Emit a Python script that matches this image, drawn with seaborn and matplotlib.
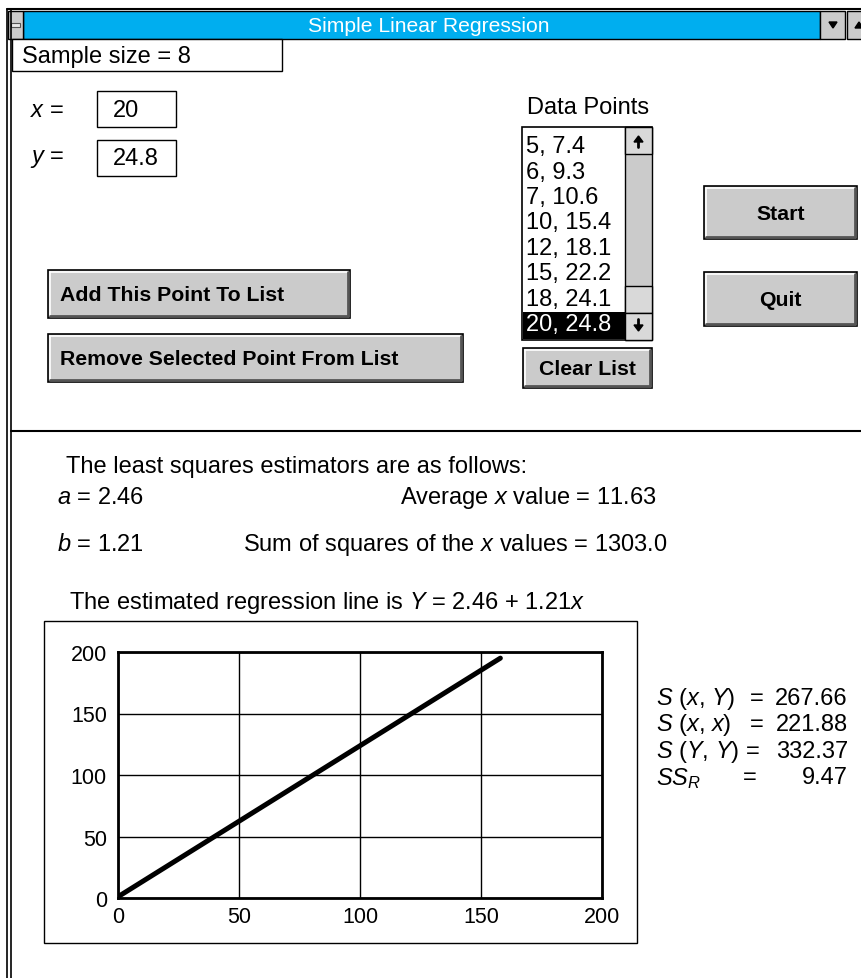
import numpy as np
import matplotlib.pyplot as plt
import matplotlib.patches as patches
import seaborn as sns

# values
pts_x = [5, 6, 7, 10, 12, 15, 18, 20]
pts_y = [7.4, 9.3, 10.6, 15.4, 18.1, 22.2, 24.1, 24.8]
entry_x = "20"
entry_y = "24.8"
a_est = 2.46
b_est = 1.21
avg_x = 11.63
sum_sq_x = 1303.0
s_xy = 267.66
s_xx = 221.88
s_yy = 332.37
ss_r = 9.47

# regression line as drawn in the plot panel
line_x = [0, 158]
line_y = [1, 195]
ticks = [0, 50, 100, 150, 200]

sns.set_theme(style="white")
plt.rcParams['font.family'] = ['Liberation Sans', 'DejaVu Sans']
plt.rcParams['text.color'] = 'black'
plt.rcParams['mathtext.fontset'] = 'custom'
plt.rcParams['mathtext.rm'] = 'Liberation Sans'
plt.rcParams['mathtext.it'] = 'Liberation Sans:italic'

W, H = 862, 979
FS = 17  # main gui text size
fig = plt.figure(figsize=(W / 100, H / 100), dpi=100)
bg = fig.add_axes([0, 0, 1, 1])
bg.set_xlim(0, W)
bg.set_ylim(H, 0)
bg.axis('off')

GRAY = '#cbcbcb'


def rect(x0, y0, x1, y1, fc='white', ec='black', lw=1.0, z=1):
    bg.add_patch(patches.Rectangle((x0, y0), x1 - x0, y1 - y0, facecolor=fc,
                                   edgecolor=ec, linewidth=lw, zorder=z))


def bold_button(x0, y0, x1, y1, label, ha='center', pad=12, size=15.3):
    rect(x0, y0, x1, y1, fc=GRAY, ec='black', lw=1.2)
    # 3d look: light top/left, dark bottom/right
    bg.plot([x0 + 2, x1 - 2], [y0 + 2, y0 + 2], color='white', lw=1.2, zorder=2)
    bg.plot([x0 + 2, x0 + 2], [y0 + 2, y1 - 2], color='white', lw=1.2, zorder=2)
    bg.plot([x0 + 2, x1 - 2], [y1 - 2, y1 - 2], color='#555555', lw=2, zorder=2)
    bg.plot([x1 - 2, x1 - 2], [y0 + 2, y1 - 2], color='#555555', lw=2, zorder=2)
    tx = (x0 + x1) / 2 if ha == 'center' else x0 + pad
    bg.text(tx, (y0 + y1) / 2 + 1, label, fontsize=size, fontweight='bold',
            ha=ha, va='center', zorder=3)


# window frame
bg.plot([7, 7], [10, H], color='black', lw=1.2)
bg.plot([11, 11], [10, H], color='black', lw=1.2)
bg.plot([7, W], [10, 10], color='black', lw=1.5)
rect(23, 12, 820, 40, fc='#00aeef', ec='black', lw=1)
rect(8, 12, 23, 40, fc=GRAY, ec='black', lw=1)
rect(11, 24, 20, 28, fc='#e8e8e8', ec='#555555', lw=0.8)
rect(820, 12, 845, 40, fc=GRAY, ec='black', lw=1)
rect(847, 12, W + 2, 40, fc=GRAY, ec='black', lw=1)
bg.add_patch(patches.Polygon([[829, 23], [837, 23], [833, 29]], color='black'))
bg.add_patch(patches.Polygon([[855, 29], [863, 29], [859, 23]], color='black'))
bg.text(429, 26, "Simple Linear Regression", color='white', fontsize=15.2,
        ha='center', va='center')

# sample size box
rect(12, 40, 282, 72, fc='white', ec='black', lw=1)
bg.text(22, 57, f"Sample size = {len(pts_x)}", fontsize=FS, va='center')

# x / y entry boxes
bg.text(30, 111, "$x$ =", fontsize=FS, va='center')
rect(97, 92, 176, 128, fc='white', ec='black', lw=1)
bg.text(113, 111, entry_x, fontsize=FS, va='center')
bg.text(30, 159, "$y$ =", fontsize=FS, va='center')
rect(97, 141, 176, 177, fc='white', ec='black', lw=1)
bg.text(113, 159, entry_y, fontsize=FS, va='center')

# data points list
bg.text(588, 108, "Data Points", fontsize=FS, ha='center', va='center')
rect(522, 128, 652, 341, fc='white', ec='black', lw=1.2)
rect(625, 128, 652, 341, fc=GRAY, ec='black', lw=1)
for y0, y1 in [(128, 155), (287, 314), (314, 341)]:
    rect(625, y0, 652, y1, fc='#d9d9d9', ec='black', lw=1)
bg.add_patch(patches.Polygon([[634, 143], [643, 143], [638.5, 137]], color='black'))
bg.plot([638.5, 638.5], [142, 148], color='black', lw=2)
bg.add_patch(patches.Polygon([[634, 326], [643, 326], [638.5, 332]], color='black'))
bg.plot([638.5, 638.5], [320, 327], color='black', lw=2)
row_y = 147
for i, (px, py) in enumerate(zip(pts_x, pts_y)):
    yy = row_y + i * 25.5
    col = 'black'
    if i == len(pts_x) - 1:
        rect(523, yy - 13, 625, yy + 14, fc='black', ec='black', lw=0)
        col = 'white'
    bg.text(526, yy, f"{px}, {py}", fontsize=FS, va='center', color=col, zorder=3)

bold_button(523, 349, 652, 389, "Clear List")
bold_button(704, 187, 857, 240, "Start")
bold_button(704, 273, 857, 327, "Quit")
bold_button(48, 271, 350, 319, "Add This Point To List", ha='left')
bold_button(48, 335, 463, 383, "Remove Selected Point From List", ha='left')

# separator
bg.plot([11, W], [432, 432], color='black', lw=1.5)

# estimators text
bg.text(66, 467, "The least squares estimators are as follows:", fontsize=FS, va='center')
bg.text(57, 498, f"$a$ = {a_est:.2f}", fontsize=FS, va='center')
bg.text(400, 498, f"Average $x$ value = {avg_x:.2f}", fontsize=FS, va='center')
bg.text(57, 545, f"$b$ = {b_est:.2f}", fontsize=FS, va='center')
bg.text(243, 545, f"Sum of squares of the $x$ values = {sum_sq_x:.1f}", fontsize=FS, va='center')
bg.text(69, 603, f"The estimated regression line is $Y$ = {a_est:.2f} + {b_est:.2f}$x$",
        fontsize=FS, va='center')

# plot panel frame
rect(44, 622, 637, 944, fc='white', ec='black', lw=1)

# statistics
stat_labels = ["$S$ ($x$, $Y$)", "$S$ ($x$, $x$)", "$S$ ($Y$, $Y$)", "$SS_R$"]
stat_vals = [s_xy, s_xx, s_yy, ss_r]
stat_eq_x = [757, 757, 753, 750]
for i, (lab, val) in enumerate(zip(stat_labels, stat_vals)):
    yy = 699 + i * 26.5
    bg.text(656, yy, lab, fontsize=FS, va='center')
    bg.text(stat_eq_x[i], yy, "=", fontsize=FS, ha='center', va='center')
    bg.text(848, yy, f"{val:.2f}", fontsize=FS, ha='right', va='center')

# regression plot
ax = fig.add_axes([118 / W, 1 - 899 / H, (602 - 118) / W, (899 - 653) / H])
sns.lineplot(x=line_x, y=line_y, ax=ax, color='black', linewidth=3.6)
ax.set_xlim(0, 200)
ax.set_ylim(0, 200)
ax.set_xticks(ticks)
ax.set_yticks(ticks)
ax.grid(True, color='black', linewidth=1)
for s in ax.spines.values():
    s.set_color('black')
    s.set_linewidth(2)
ax.tick_params(axis='both', length=0, labelsize=15.5, colors='black')
ax.tick_params(axis='x', pad=6)
ax.tick_params(axis='y', pad=8)

fig.savefig('out.png', dpi=100)
